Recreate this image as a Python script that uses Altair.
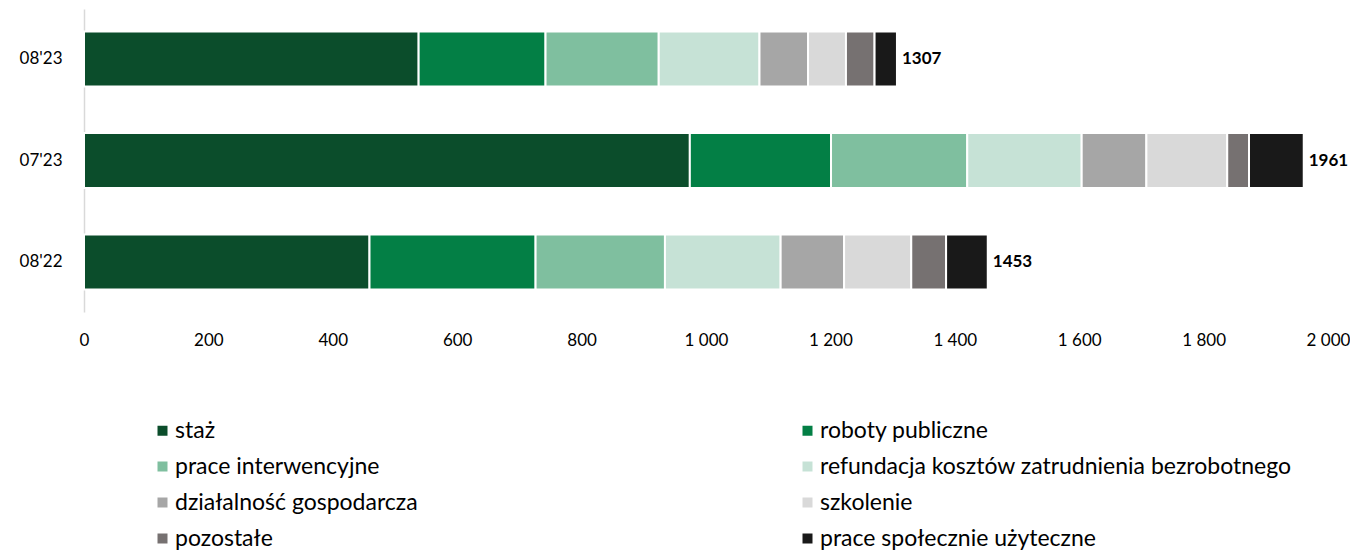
import altair as alt
import pandas as pd

periods = ["08'23", "07'23", "08'22"]
categories = [
    "staż",
    "roboty publiczne",
    "prace interwencyjne",
    "refundacja kosztów zatrudnienia bezrobotnego",
    "działalność gospodarcza",
    "szkolenie",
    "pozostałe",
    "prace społecznie użyteczne",
]
colors = ["#0b4d2b", "#037f45", "#7fbf9f", "#c6e2d6", "#a6a6a6", "#d9d9d9", "#767171", "#191919"]
v_0823 = [538, 204, 182, 162, 78, 61, 46, 36]
v_0723 = [974, 227, 219, 184, 104, 130, 35, 88]
v_0822 = [459, 267, 208, 186, 102, 108, 56, 67]
totals = [1307, 1961, 1453]
x_ticks = [0, 200, 400, 600, 800, 1000, 1200, 1400, 1600, 1800, 2000]

series = {"08'23": v_0823, "07'23": v_0723, "08'22": v_0822}
rows = []
for p in periods:
    for i, (c, v) in enumerate(zip(categories, series[p])):
        rows.append({"okres": p, "kategoria": c, "wartosc": v, "idx": i})
df = pd.DataFrame(rows)
df_tot = pd.DataFrame({"okres": periods, "suma": totals})

FONT = "Lato"

y_enc = alt.Y(
    "okres:N",
    sort=periods,
    title=None,
    scale=alt.Scale(paddingInner=0.458, paddingOuter=0.2215),
    axis=alt.Axis(
        domain=True, domainColor="#d9d9d9", domainWidth=1.5, ticks=False,
        labelFontSize=17, labelFont=FONT, labelColor="#000000", labelPadding=22,
    ),
)

bars = alt.Chart(df).mark_bar(stroke="white", strokeWidth=2).encode(
    x=alt.X(
        "wartosc:Q",
        stack="zero",
        title=None,
        scale=alt.Scale(domain=[0, 2000], nice=False),
        axis=alt.Axis(
            values=x_ticks, grid=False, domain=False, ticks=False,
            labelFontSize=17, labelFont=FONT, labelColor="#000000", labelPadding=20,
            labelFlush=False,
            labelExpr="replace(format(datum.value, ','), ',', ' ')",
        ),
    ),
    y=y_enc,
    color=alt.Color(
        "kategoria:N",
        sort=categories,
        scale=alt.Scale(domain=categories, range=colors),
        legend=alt.Legend(
            title=None, orient="none", legendX=67, legendY=410, columns=2,
            direction="horizontal",
            symbolType="square", symbolSize=100, symbolStrokeWidth=0,
            labelFontSize=23, labelFont=FONT, labelColor="#000000", labelOffset=1,
            rowPadding=12, columnPadding=378, labelLimit=700,
        ),
    ),
    order=alt.Order("idx:Q", sort="ascending"),
)

labels = alt.Chart(df_tot).mark_text(
    align="left", baseline="middle", dx=5, fontSize=17, fontWeight="bold", font=FONT, color="#000000"
).encode(
    x=alt.X("suma:Q"),
    y=alt.Y("okres:N", sort=periods),
    text=alt.Text("suma:Q", format="d"),
)

chart = alt.layer(bars, labels).properties(
    width=1244,
    height=303,
    padding={"left": 76, "top": 1, "right": 22, "bottom": 241},
    autosize=alt.AutoSizeParams(type="none"),
).configure_view(stroke=None)

chart.save("out.html", embed_options={"renderer": "svg", "actions": False})
